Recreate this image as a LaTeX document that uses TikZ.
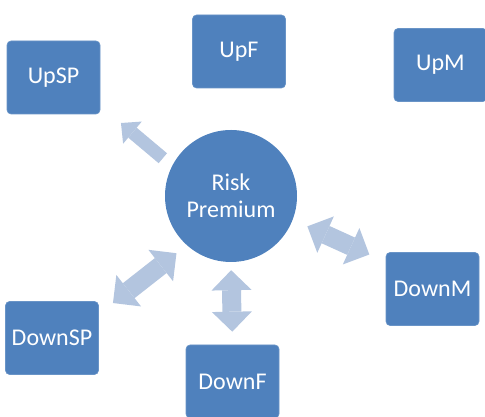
\documentclass[tikz,border=0pt]{standalone}
\usepackage{fontspec}
\setmainfont{Carlito}
\usetikzlibrary{arrows.meta,positioning}

\definecolor{boxblue}{HTML}{4F81BD}
\definecolor{arrowblue}{HTML}{B3C5DF}

\tikzset{
  box/.style={rectangle, rounded corners=4pt, fill=boxblue, draw=boxblue!85!white, line width=0.6pt,
    minimum width=93pt, minimum height=73pt, text=white, font=\fontsize{24}{27}\selectfont},
  hub/.style={circle, fill=boxblue, minimum size=132pt, inner sep=0pt, text=white, align=center,
    font=\fontsize{24}{27}\selectfont},
  link/.style={arrowblue, line width=19pt,
    {Triangle[width=40pt,length=20pt,line width=0pt]}-{Triangle[width=40pt,length=20pt,line width=0pt]}},
  pointer/.style={arrowblue, line width=13pt, -{Triangle[width=29pt,length=15pt,line width=0pt]}}
}

\begin{document}
\begin{tikzpicture}[x=1pt,y=1pt]
        \useasboundingbox (0,0) rectangle (485,417);

        \node[hub] (risk) at (231,221) {Risk\\Premium};
        \node[box] (upSP) at (53.5,339.5) {UpSP};
        \node[box] (upF) at (239,365.5) {UpF};
        \node[box] (upM) at (440.5,352) {UpM};
        \node[box] (downSP) at (52,79) {DownSP};
        \node[box] (downF) at (232.5,35.5) {DownF};
        \node[box] (downM) at (432.5,128) {DownM};

        \draw[pointer, shorten <=12pt, shorten >=27pt] (risk.153) -- (upSP.329);
        \draw[link, shorten <=13pt, shorten >=18pt] (risk.228) -- (downSP.27);
        \draw[link, shorten <=8pt, shorten >=13pt] (risk.south) -- (downF.north);
        \draw[link, shorten <=16pt, shorten >=18pt] (risk.339) -- (downM.150);
\end{tikzpicture}
\end{document}
